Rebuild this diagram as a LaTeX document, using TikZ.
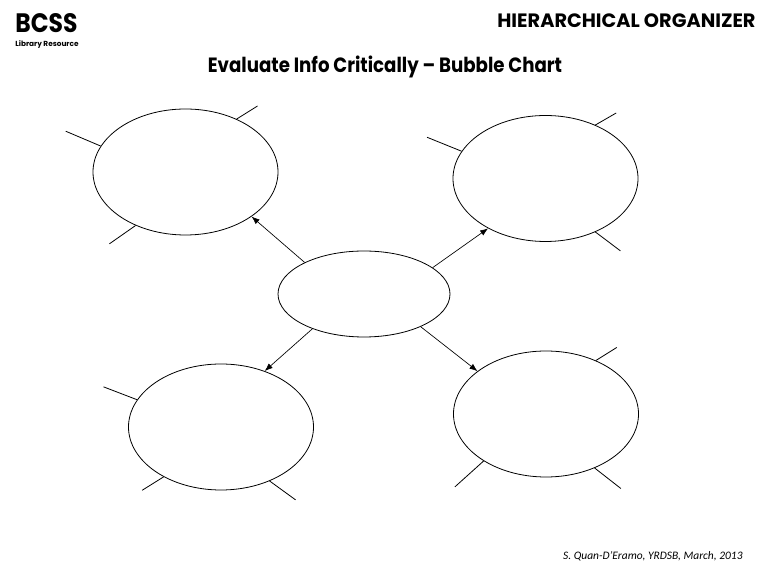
\documentclass[tikz,border=0pt]{standalone}
\usepackage{fontspec}
\setmainfont{Carlito}
\newfontfamily\headfont{Poppins}
\newfontfamily\titlefont{Poppins}[FakeStretch=0.88]
\usetikzlibrary{shapes.geometric,arrows.meta}

\begin{document}
\begin{tikzpicture}[x=0.75pt,y=-0.75pt,line width=0.6pt,
  bubble/.style={ellipse,draw,minimum width=138.75pt,minimum height=94.5pt,inner sep=0pt},
  hubble/.style={ellipse,draw,minimum width=129pt,minimum height=64.5pt,inner sep=0pt},
  link/.style={-{Latex[length=6pt,width=4.5pt]},line width=0.5pt},
  stub/.style={line width=0.6pt}]
\useasboundingbox (0,0) rectangle (769,580);
\fill[white] (0,0) rectangle (769,580);
% header
\node[anchor=base west,inner sep=0pt,font=\titlefont\bfseries\fontsize{20}{20}\selectfont] (brand) at (15,32.5) {BCSS};
\node[anchor=base west,inner sep=0pt,font=\headfont\bfseries\fontsize{5.5}{6}\selectfont] (lib) at (15,46.5) {Library Resource};
\node[anchor=base east,inner sep=0pt,font=\headfont\bfseries\fontsize{14.5}{15}\selectfont] (kind) at (756,27.5) {HIERARCHICAL ORGANIZER};
\node[anchor=base,inner sep=0pt,font=\titlefont\bfseries\fontsize{15.5}{16}\selectfont] (title) at (385,72.5) {Evaluate Info Critically – Bubble Chart};
\node[anchor=base east,inner sep=0pt,font=\itshape\fontsize{8.6}{9}\selectfont] (credit) at (743,560) {S. Quan-D’Eramo, YRDSB, March, 2013};
% bubbles
\node[hubble] (hub) at (364,294) {};
\node[bubble] (tl) at (185.5,172) {};
\node[bubble] (tr) at (545.5,178.5) {};
\node[bubble] (bl) at (221,427) {};
\node[bubble] (br) at (546,414) {};
\draw[link] (hub.152) -- (tl.-34);
\draw[link] (hub.21) -- (tr.221);
\draw[link] (hub.214) -- (bl.52);
\draw[link] (hub.-30) -- (br.148);
% stubs
\foreach \b/\a/\d/\l in {tl/163/157/28.5, tl/46/32/18.5, tl/227/215/24,
  tr/162/158/28, tr/47/30/18, tr/-47/-37/23.5,
  bl/162/159/27, bl/221/212/19, bl/-48/-36/24,
  br/47/32/18.5, br/217/222/29, br/-48/-38/25} {
  \draw[stub] (\b.\a) -- ++(\d:\l pt);
}
\end{tikzpicture}
\end{document}
